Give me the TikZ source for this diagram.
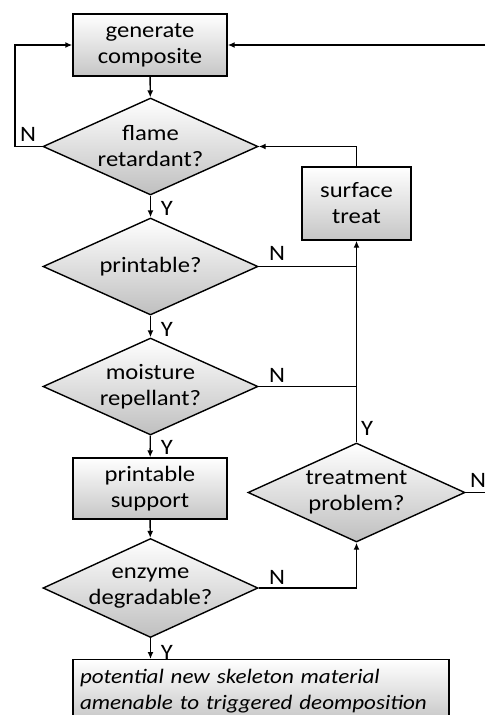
\documentclass[tikz,border=0pt]{standalone}
\usepackage{fontspec}
\setmainfont[FakeStretch=1.12]{Carlito}
\usetikzlibrary{shapes.geometric,arrows.meta}

\tikzset{
  proc/.style={draw,line width=1.4pt,top color=white,bottom color=gray!45,
    minimum width=154pt,minimum height=62pt,inner sep=0pt,align=center},
  decision/.style={draw,line width=1.4pt,diamond,top color=white,bottom color=gray!50,
    minimum width=215pt,minimum height=97pt,inner sep=0pt},
  dtext/.style={align=center,inner sep=0pt},
  flow/.style={line width=1.4pt,-{Latex[length=7pt,width=6pt]}},
  link/.style={line width=1.4pt},
  yn/.style={inner sep=0pt}
}

\begin{document}
\begin{tikzpicture}[x=1pt,y=-1pt,font=\fontsize{22}{26}\selectfont]
\useasboundingbox (0,0) rectangle (485,715);

\node[proc] (gen) at (150,45) {generate\\composite};
\node[decision] (flame) at (150.5,146.5) {};
\node[dtext] at (flame) {flame\\retardant?};
\node[proc,minimum width=109pt,minimum height=73pt] (surf) at (356.5,203.5) {surface\\treat};
\node[decision] (print) at (150.5,266.5) {};
\node[dtext] at (print) {printable?};
\node[decision] (moist) at (150.5,386.5) {};
\node[dtext] at (moist) {moisture\\repellant?};
\node[proc,minimum height=61pt] (supp) at (150,488.5) {printable\\support};
\node[decision,minimum width=217pt,minimum height=99pt] (treat) at (356.5,492.5) {};
\node[dtext] at (treat) {treatment\\problem?};
\node[decision,minimum height=99pt] (enz) at (150.5,588) {};
\node[dtext] at (enz) {enzyme\\degradable?};
\node[proc,minimum width=376pt,minimum height=62pt,anchor=north,align=left,
  text width=362pt,font=\fontsize{20.6}{26}\selectfont\itshape] (final) at (261,659)
  {potential new skeleton material\\amenable to triggered deomposition};

\coordinate (left) at (15,146.5);
\coordinate (rtop) at (485,45);
\coordinate (rmid) at (485,492.5);

\draw[flow] (gen) -- (flame); % composite - flame
\draw[flow] (flame.west) -- (left) |- (gen.west); % flame N - composite
\draw[flow] (flame) -- (print); % flame Y - printable
\draw[flow] (print) -- (moist); % printable Y - moisture
\draw[flow] (moist) -- (supp); % moisture Y - support
\draw[flow] (supp) -- (enz); % support - enzyme
\draw[flow] (enz.south) -- (enz.south |- final.north); % enzyme Y - final
\draw[link] (print.east) -- (surf.south |- print.east); % printable N
\draw[link] (moist.east) -- (surf.south |- moist.east); % moisture N
\draw[flow] (treat.north) -- (surf.south); % treatment Y - surface
\draw[flow] (enz.east) -| (treat.south); % enzyme N - treatment
\draw[flow] (surf.north) |- (flame.east); % surface - flame
\draw[link] (treat.east) -- (rmid); % treatment N
\draw[flow] (rtop) -- (gen.east); % back to composite

\node[yn] at (28,134) {N};
\node[yn] at (167,208) {Y};
\node[yn] at (277,253) {N};
\node[yn] at (167,329) {Y};
\node[yn] at (277,375) {N};
\node[yn] at (167,447) {Y};
\node[yn] at (367,428) {Y};
\node[yn] at (478,480) {N};
\node[yn] at (277,577) {N};
\node[yn] at (167,652) {Y};

\end{tikzpicture}
\end{document}
